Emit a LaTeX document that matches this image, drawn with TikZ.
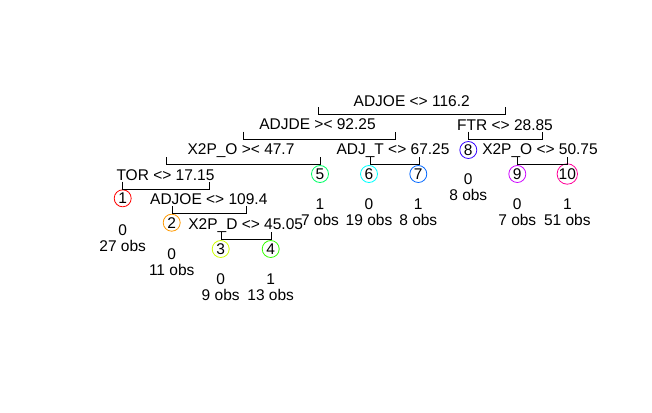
\documentclass[tikz,border=0pt]{standalone}
\usepackage{fontspec}
\setmainfont{Liberation Sans}

\definecolor{rb1}{HTML}{FF0000}
\definecolor{rb2}{HTML}{FF9900}
\definecolor{rb3}{HTML}{CCFF00}
\definecolor{rb4}{HTML}{33FF00}
\definecolor{rb5}{HTML}{00FF66}
\definecolor{rb6}{HTML}{00FFFF}
\definecolor{rb7}{HTML}{0066FF}
\definecolor{rb8}{HTML}{3300FF}
\definecolor{rb9}{HTML}{CC00FF}
\definecolor{rb10}{HTML}{FF0099}

\tikzset{
  split/.style={anchor=base, inner sep=0pt},
  leaf/.style={anchor=base, align=center, inner sep=0pt},
  num/.style={circle, draw=#1, line width=0.8pt, minimum size=17pt, inner sep=0pt},
  branch/.style={line width=1pt},
}

\begin{document}
\begin{tikzpicture}[x=1pt, y=-1pt, font=\fontsize{15.5}{16}\selectfont]%[scale=0.50]

  \useasboundingbox (0,0) rectangle (652,412);

  % splits
	\node[split] at (411.7,106) (s0) {ADJOE <> 116.2};
	\node[split] at (317.5,129.5) (s1) {ADJDE >< 92.25};
	\node[split] at (505,130) (s2) {FTR <> 28.85};
	\node[split] at (241,154) (s3) {X2P\_O >< 47.7};
	\node[split] at (393,154) (s4) {ADJ\_T <> 67.25};
	\node[split] at (540,154) (s5) {X2P\_O <> 50.75};
	\node[split] at (165.5,180) (s6) {TOR <> 17.15};
	\node[split] at (208.8,204.5) (s7) {ADJOE <> 109.4};
	\node[split] at (245.7,229.3) (s8) {X2P\_D <> 45.05};

  % terminal nodes
	\node[num=rb1] at (122.7,198.3) (n1) {1};
	\node[num=rb2] at (171.7,222.7) (n2) {2};
	\node[num=rb3] at (220.7,249) (n3) {3};
	\node[num=rb4] at (270.7,249) (n4) {4};
	\node[num=rb5] at (320,174) (n5) {5};
	\node[num=rb6] at (369,174) (n6) {6};
	\node[num=rb7] at (418.3,174) (n7) {7};
	\node[num=rb8] at (468.3,150) (n8) {8};
	\node[num=rb9] at (517.3,174) (n9) {9};
	\node[num=rb10] at (567.3,174) (n10) {10};

	\node[leaf] at (122.7,251) (l1) {0\\27 obs};
	\node[leaf] at (171.7,275.7) (l2) {0\\11 obs};
	\node[leaf] at (220.7,300) (l3) {0\\9 obs};
	\node[leaf] at (270.7,300) (l4) {1\\13 obs};
	\node[leaf] at (320,225.5) (l5) {1\\7 obs};
	\node[leaf] at (369,225.5) (l6) {0\\19 obs};
	\node[leaf] at (418.3,225.5) (l7) {1\\8 obs};
	\node[leaf] at (468.3,200.5) (l8) {0\\8 obs};
	\node[leaf] at (517.3,225.5) (l9) {0\\7 obs};
	\node[leaf] at (567.3,225.5) (l10) {1\\51 obs};

  % bracket ends
	\coordinate (b0l) at (318.3,107);  \coordinate (b0r) at (505.7,107);
	\coordinate (b1l) at (243.3,131.7); \coordinate (b1r) at (395,131.7);
	\coordinate (b2l) at (468.3,131.7); \coordinate (b2r) at (542.3,131.7);
	\coordinate (b3l) at (166.7,157); \coordinate (b3r) at (320.7,157);
	\coordinate (b4l) at (370,157); \coordinate (b4r) at (419.3,157);
	\coordinate (b5l) at (517.3,157); \coordinate (b5r) at (567.3,157);
	\coordinate (b6l) at (122.7,181.7); \coordinate (b6r) at (209.3,181.7);
	\coordinate (b7l) at (172.3,206); \coordinate (b7r) at (246.7,206);
	\coordinate (b8l) at (221.7,231.7); \coordinate (b8r) at (271.7,231.7);

	\foreach \b in {0,...,8}
	  \draw[branch] (b\b l) -- ++(0,7.3) -| (b\b r);

\end{tikzpicture}
\end{document}
